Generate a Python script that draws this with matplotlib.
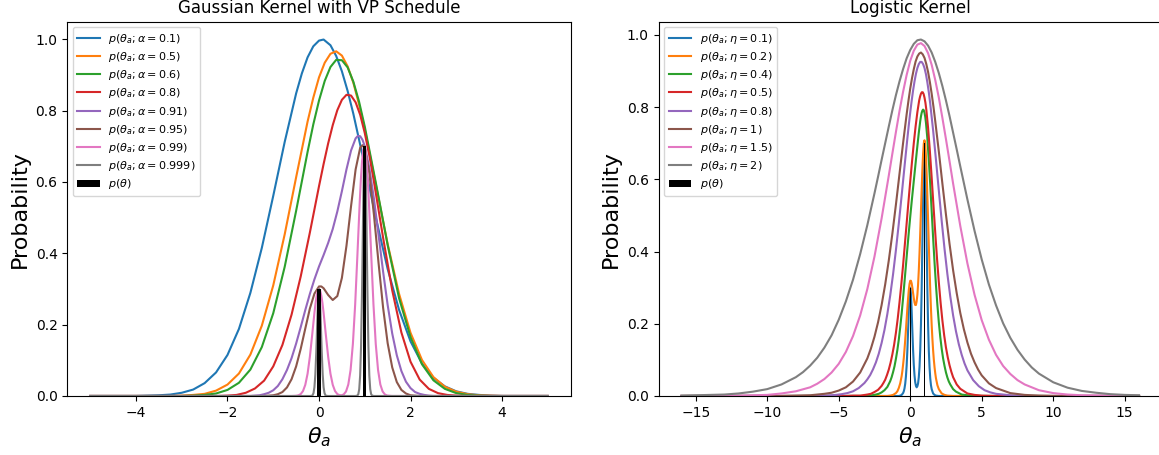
import matplotlib.pyplot as plt

# ---- left panel: Gaussian kernel with VP schedule ----
alpha_labels = ['0.1', '0.5', '0.6', '0.8', '0.91', '0.95', '0.99', '0.999']

g1_x = [-5, -4, -3.75, -3.5, -3.25, -3, -2.75, -2.5, -2.25, -2, -1.75, -1.5, -1.25, -1, -0.75,
        -0.5, -0.375, -0.25, -0.125, 0, 0.1, 0.25, 0.375, 0.5, 0.625, 0.75, 1, 1.25, 1.5, 1.75,
        2, 2.25, 2.5, 2.75, 3, 3.25, 3.5, 3.75, 4, 5]
g1_y = [0, 0, 0.001, 0.002, 0.004, 0.009, 0.018, 0.036, 0.066, 0.115, 0.188, 0.289, 0.415, 0.561, 0.712,
        0.848, 0.904, 0.949, 0.980, 0.996, 0.999, 0.983, 0.953, 0.910, 0.855, 0.791, 0.646, 0.495, 0.356, 0.241,
        0.153, 0.091, 0.051, 0.027, 0.013, 0.006, 0.003, 0.001, 0, 0]

g2_x = [-5, -4, -3.5, -3.25, -3, -2.75, -2.5, -2.25, -2, -1.75, -1.5, -1.25, -1, -0.75, -0.5,
        -0.25, -0.125, 0, 0.125, 0.25, 0.375, 0.5, 0.625, 0.75, 0.875, 1, 1.25, 1.5, 1.75, 2,
        2.25, 2.5, 2.75, 3, 3.25, 3.5, 3.75, 4, 5]
g2_y = [0, 0, 0, 0, 0.001, 0.003, 0.006, 0.015, 0.032, 0.063, 0.116, 0.197, 0.310, 0.453, 0.613,
        0.769, 0.836, 0.893, 0.934, 0.959, 0.966, 0.954, 0.924, 0.878, 0.817, 0.747, 0.587, 0.426, 0.286, 0.177,
        0.101, 0.053, 0.026, 0.012, 0.005, 0.002, 0.001, 0, 0]

g3_x = [-5, -3.5, -3.25, -3, -2.75, -2.5, -2.25, -2, -1.75, -1.5, -1.25, -1, -0.75, -0.5, -0.25,
        -0.125, 0, 0.125, 0.25, 0.375, 0.5, 0.625, 0.75, 0.875, 1, 1.25, 1.5, 1.75, 2, 2.25,
        2.5, 2.75, 3, 3.25, 3.5, 3.75, 5]
g3_y = [0, 0, 0, 0, 0.001, 0.003, 0.007, 0.017, 0.037, 0.074, 0.137, 0.232, 0.362, 0.519, 0.684,
        0.761, 0.828, 0.883, 0.922, 0.942, 0.941, 0.921, 0.881, 0.825, 0.755, 0.592, 0.423, 0.274, 0.165, 0.089,
        0.044, 0.020, 0.008, 0.003, 0.001, 0, 0]

g4_x = [-5, -2.4, -2.2, -2.0, -1.8, -1.6, -1.4, -1.2, -1.0, -0.8, -0.6, -0.4, -0.2, 0, 0.1,
        0.2, 0.3, 0.4, 0.5, 0.6, 0.7, 0.8, 0.9, 1.0, 1.1, 1.2, 1.4, 1.6, 1.8, 2.0,
        2.2, 2.4, 2.6, 2.8, 3.0, 3.2, 5]
g4_y = [0, 0, 0, 0.001, 0.003, 0.009, 0.021, 0.043, 0.083, 0.143, 0.228, 0.335, 0.458, 0.588, 0.650,
        0.708, 0.759, 0.801, 0.830, 0.844, 0.842, 0.823, 0.788, 0.737, 0.674, 0.601, 0.444, 0.296, 0.178, 0.096,
        0.046, 0.020, 0.008, 0.003, 0.001, 0, 0]

g5_x = [-5, -1.6, -1.5, -1.4, -1.3, -1.2, -1.1, -1.0, -0.9, -0.8, -0.7, -0.6, -0.5, -0.4, -0.3,
        -0.2, -0.1, 0, 0.1, 0.2, 0.3, 0.4, 0.5, 0.6, 0.7, 0.8, 0.85, 0.9, 0.95, 1.0,
        1.1, 1.2, 1.3, 1.4, 1.5, 1.6, 1.7, 1.8, 1.9, 2.0, 2.1, 2.2, 2.3, 2.4, 2.5, 2.6, 5]
g5_y = [0, 0, 0, 0.001, 0.002, 0.005, 0.009, 0.016, 0.028, 0.047, 0.073, 0.106, 0.147, 0.193, 0.241,
        0.286, 0.327, 0.363, 0.395, 0.429, 0.468, 0.517, 0.574, 0.635, 0.688, 0.722, 0.729, 0.728, 0.718, 0.700,
        0.639, 0.553, 0.452, 0.349, 0.255, 0.175, 0.114, 0.070, 0.040, 0.022, 0.011, 0.006, 0.003, 0.001, 0, 0, 0]

g6_x = [-5, -1.3, -1.2, -1.1, -1.0, -0.9, -0.8, -0.7, -0.6, -0.5, -0.4, -0.3, -0.2, -0.1, 0,
        0.05, 0.1, 0.2, 0.3, 0.4, 0.5, 0.6, 0.7, 0.8, 0.9, 0.95, 1.0, 1.1, 1.2, 1.3,
        1.4, 1.5, 1.6, 1.7, 1.8, 1.9, 2.0, 2.1, 2.2, 5]
g6_y = [0, 0, 0, 0.001, 0.002, 0.005, 0.011, 0.024, 0.047, 0.083, 0.132, 0.189, 0.245, 0.287, 0.307,
        0.307, 0.302, 0.283, 0.269, 0.280, 0.331, 0.421, 0.532, 0.635, 0.696, 0.703, 0.693, 0.624, 0.508, 0.374,
        0.248, 0.148, 0.080, 0.039, 0.017, 0.007, 0.002, 0.001, 0, 0]

g7_x = [-5, -0.6, -0.5, -0.45, -0.4, -0.35, -0.3, -0.25, -0.2, -0.15, -0.1, -0.075, -0.05, -0.025, 0,
        0.025, 0.05, 0.075, 0.1, 0.15, 0.2, 0.25, 0.3, 0.35, 0.4, 0.45, 0.5, 0.54, 0.59, 0.64,
        0.69, 0.74, 0.79, 0.84, 0.89, 0.915, 0.94, 0.965, 0.99, 1.015, 1.04, 1.065, 1.09, 1.14, 1.19,
        1.24, 1.29, 1.34, 1.39, 1.44, 1.49, 1.59, 5]
g7_y = [0, 0, 0.0006, 0.0019, 0.0054, 0.0138, 0.0313, 0.0624, 0.1098, 0.1705, 0.2333, 0.2605, 0.2817, 0.2953, 0.3,
        0.2953, 0.2817, 0.2605, 0.2333, 0.1705, 0.1098, 0.0624, 0.0313, 0.0138, 0.0054, 0.0023, 0.0022, 0.0045, 0.0126, 0.0322,
        0.0730, 0.1456, 0.2562, 0.3977, 0.5445, 0.6077, 0.6574, 0.6891, 0.7, 0.6891, 0.6574, 0.6077, 0.5445, 0.3977, 0.2562,
        0.1456, 0.0730, 0.0322, 0.0126, 0.0043, 0.0013, 0.0001, 0]

g8_x = [-5, -0.2, -0.16, -0.14, -0.12, -0.1, -0.08, -0.06, -0.05, -0.04, -0.03, -0.02, -0.01, 0, 0.01,
        0.02, 0.03, 0.04, 0.05, 0.06, 0.08, 0.1, 0.12, 0.14, 0.16, 0.2, 0.799, 0.839, 0.859, 0.879,
        0.899, 0.919, 0.939, 0.949, 0.959, 0.969, 0.979, 0.989, 0.999, 1.009, 1.019, 1.029, 1.039, 1.049, 1.059,
        1.079, 1.099, 1.119, 1.139, 1.159, 1.199, 5]
g8_y = [0, 0, 0.0005, 0.0022, 0.0082, 0.0246, 0.0605, 0.1219, 0.1605, 0.2011, 0.2395, 0.2714, 0.2926, 0.3, 0.2926,
        0.2714, 0.2395, 0.2011, 0.1605, 0.1219, 0.0605, 0.0246, 0.0082, 0.0022, 0.0005, 0, 0, 0.0012, 0.0052, 0.0191,
        0.0574, 0.1412, 0.2845, 0.3746, 0.4691, 0.5589, 0.6334, 0.6827, 0.7, 0.6827, 0.6334, 0.5589, 0.4691, 0.3746, 0.2845,
        0.1412, 0.0574, 0.0191, 0.0052, 0.0012, 0, 0]

# ---- right panel: logistic kernel ----
eta_labels = ['0.1', '0.2', '0.4', '0.5', '0.8', '1', '1.5', '2']

l1_x = [-16, -1, -0.8, -0.7, -0.6, -0.5, -0.45, -0.4, -0.35, -0.3, -0.25, -0.2, -0.15, -0.1, -0.075,
        -0.05, -0.025, 0, 0.025, 0.05, 0.075, 0.1, 0.15, 0.2, 0.25, 0.3, 0.35, 0.4, 0.45, 0.5,
        0.55, 0.6, 0.65, 0.7, 0.75, 0.8, 0.85, 0.9, 0.925, 0.95, 0.975, 1.0, 1.025, 1.05, 1.075,
        1.1, 1.15, 1.2, 1.25, 1.3, 1.35, 1.4, 1.45, 1.5, 1.6, 1.7, 1.8, 2.0, 16]
l1_y = [0, 0, 0, 0.001, 0.003, 0.008, 0.013, 0.021, 0.034, 0.054, 0.084, 0.126, 0.179, 0.236, 0.261,
        0.282, 0.295, 0.300, 0.296, 0.282, 0.262, 0.236, 0.180, 0.127, 0.086, 0.057, 0.038, 0.028, 0.024, 0.027,
        0.035, 0.052, 0.081, 0.128, 0.197, 0.294, 0.418, 0.551, 0.610, 0.658, 0.689, 0.700, 0.689, 0.658, 0.610,
        0.551, 0.418, 0.294, 0.196, 0.126, 0.080, 0.049, 0.030, 0.019, 0.007, 0.003, 0.001, 0, 0]

l2_x = [-16, -2, -1.6, -1.4, -1.2, -1.0, -0.9, -0.8, -0.7, -0.6, -0.55, -0.5, -0.45, -0.4, -0.35,
        -0.3, -0.25, -0.2, -0.15, -0.1, -0.05, 0, 0.05, 0.1, 0.15, 0.2, 0.25, 0.3, 0.35, 0.4,
        0.45, 0.5, 0.55, 0.6, 0.65, 0.7, 0.75, 0.8, 0.85, 0.9, 0.95, 0.975, 1.0, 1.025, 1.05,
        1.1, 1.15, 1.2, 1.25, 1.3, 1.35, 1.4, 1.45, 1.5, 1.55, 1.6, 1.65, 1.7, 1.75, 1.8,
        1.9, 2.0, 2.2, 2.4, 2.6, 3.0, 16]
l2_y = [0, 0, 0, 0.001, 0.003, 0.008, 0.013, 0.022, 0.035, 0.055, 0.069, 0.086, 0.105, 0.129, 0.155,
        0.183, 0.213, 0.243, 0.270, 0.293, 0.310, 0.319, 0.319, 0.312, 0.300, 0.285, 0.271, 0.259, 0.252, 0.252,
        0.262, 0.280, 0.309, 0.348, 0.396, 0.452, 0.512, 0.572, 0.627, 0.671, 0.699, 0.706, 0.708, 0.704, 0.695,
        0.663, 0.614, 0.553, 0.487, 0.419, 0.355, 0.295, 0.242, 0.197, 0.159, 0.127, 0.101, 0.080, 0.063, 0.049,
        0.030, 0.019, 0.007, 0.003, 0.001, 0, 0]

l3_x = [-16, -5, -4, -3.6, -3.2, -2.8, -2.4, -2.2, -2.0, -1.8, -1.6, -1.4, -1.3, -1.2, -1.1,
        -1.0, -0.9, -0.8, -0.7, -0.6, -0.5, -0.4, -0.3, -0.2, -0.1, 0, 0.1, 0.2, 0.3, 0.4,
        0.5, 0.6, 0.7, 0.75, 0.8, 0.85, 0.9, 0.95, 1.0, 1.05, 1.1, 1.2, 1.3, 1.4, 1.5,
        1.6, 1.7, 1.8, 1.9, 2.0, 2.1, 2.2, 2.3, 2.4, 2.5, 2.6, 2.7, 2.8, 3.0, 3.2,
        3.6, 4.0, 4.4, 5, 16]
l3_y = [0, 0, 0, 0, 0, 0.001, 0.004, 0.006, 0.010, 0.016, 0.025, 0.041, 0.052, 0.066, 0.082,
        0.103, 0.127, 0.156, 0.190, 0.228, 0.271, 0.316, 0.362, 0.408, 0.453, 0.496, 0.537, 0.576, 0.615, 0.654,
        0.692, 0.729, 0.761, 0.774, 0.784, 0.790, 0.793, 0.791, 0.784, 0.773, 0.757, 0.712, 0.653, 0.585, 0.512,
        0.439, 0.370, 0.307, 0.252, 0.204, 0.164, 0.131, 0.104, 0.083, 0.065, 0.051, 0.040, 0.032, 0.019, 0.012,
        0.004, 0.002, 0.001, 0, 0]

l4_x = [-16, -6, -5, -4.5, -4, -3.5, -3, -2.75, -2.5, -2.25, -2, -1.875, -1.75, -1.625, -1.5,
        -1.375, -1.25, -1.125, -1, -0.875, -0.75, -0.625, -0.5, -0.375, -0.25, -0.125, 0, 0.125, 0.25, 0.375,
        0.5, 0.625, 0.6875, 0.75, 0.8125, 0.875, 0.9375, 1, 1.0625, 1.125, 1.25, 1.375, 1.5, 1.625, 1.75,
        1.875, 2, 2.125, 2.25, 2.375, 2.5, 2.625, 2.75, 2.875, 3, 3.25, 3.5, 4, 4.5, 5, 6, 16]
l4_y = [0, 0, 0, 0, 0.001, 0.001, 0.004, 0.006, 0.011, 0.017, 0.028, 0.036, 0.045, 0.058, 0.073,
        0.092, 0.115, 0.142, 0.175, 0.214, 0.259, 0.308, 0.362, 0.420, 0.478, 0.537, 0.594, 0.649, 0.700, 0.746,
        0.786, 0.818, 0.829, 0.837, 0.841, 0.841, 0.836, 0.826, 0.812, 0.793, 0.742, 0.678, 0.605, 0.528, 0.452,
        0.380, 0.315, 0.258, 0.209, 0.168, 0.134, 0.107, 0.085, 0.067, 0.052, 0.032, 0.020, 0.007, 0.003, 0.001, 0, 0]

l5_x = [-16, -8, -7, -6, -5.6, -5.2, -4.8, -4.4, -4.0, -3.6, -3.2, -3.0, -2.8, -2.6, -2.4,
        -2.2, -2.0, -1.8, -1.6, -1.4, -1.2, -1.0, -0.8, -0.6, -0.4, -0.2, -0.1, 0, 0.1, 0.2,
        0.3, 0.4, 0.5, 0.6, 0.7, 0.8, 0.9, 1.0, 1.1, 1.2, 1.3, 1.4, 1.6, 1.8, 2.0,
        2.2, 2.4, 2.6, 2.8, 3.0, 3.2, 3.4, 3.6, 3.8, 4.0, 4.4, 4.8, 5.2, 5.6, 6.0, 7.0, 8.0, 16]
l5_y = [0, 0, 0, 0.001, 0.002, 0.003, 0.005, 0.008, 0.013, 0.022, 0.036, 0.046, 0.058, 0.074, 0.093,
        0.117, 0.147, 0.183, 0.227, 0.278, 0.337, 0.404, 0.477, 0.555, 0.635, 0.713, 0.750, 0.785, 0.817, 0.846,
        0.871, 0.892, 0.908, 0.919, 0.925, 0.925, 0.919, 0.908, 0.891, 0.868, 0.841, 0.809, 0.736, 0.654, 0.569,
        0.485, 0.407, 0.337, 0.276, 0.223, 0.179, 0.143, 0.114, 0.090, 0.071, 0.044, 0.027, 0.016, 0.010, 0.006, 0.002, 0, 0]

l6_x = [-16, -10, -9, -8, -7, -6, -5.5, -5, -4.5, -4, -3.5, -3, -2.75, -2.5, -2.25,
        -2, -1.75, -1.5, -1.25, -1, -0.75, -0.5, -0.25, -0.125, 0, 0.125, 0.25, 0.375, 0.5, 0.625,
        0.75, 0.875, 1, 1.125, 1.25, 1.375, 1.5, 1.625, 1.75, 2, 2.25, 2.5, 2.75, 3, 3.25,
        3.5, 3.75, 4, 4.25, 4.5, 4.75, 5, 5.5, 6, 7, 8, 9, 10, 16]
l6_y = [0, 0, 0, 0.001, 0.002, 0.006, 0.009, 0.015, 0.024, 0.040, 0.065, 0.104, 0.131, 0.164, 0.204,
        0.252, 0.309, 0.375, 0.449, 0.530, 0.615, 0.700, 0.780, 0.817, 0.851, 0.880, 0.905, 0.926, 0.940, 0.948,
        0.951, 0.946, 0.936, 0.919, 0.897, 0.869, 0.837, 0.801, 0.761, 0.677, 0.588, 0.502, 0.421, 0.348, 0.285,
        0.230, 0.185, 0.148, 0.117, 0.093, 0.073, 0.057, 0.035, 0.022, 0.008, 0.003, 0.001, 0, 0]

l7_x = [-16, -14, -12, -11, -10, -9, -8, -7, -6.5, -6, -5.5, -5, -4.5, -4, -3.5,
        -3, -2.5, -2, -1.5, -1.25, -1, -0.75, -0.5, -0.25, 0, 0.25, 0.5, 0.75, 1, 1.25,
        1.5, 1.75, 2, 2.25, 2.5, 2.75, 3, 3.5, 4, 4.5, 5, 5.5, 6, 6.5, 7,
        7.5, 8, 9, 10, 11, 12, 14, 16]
l7_y = [0, 0, 0.001, 0.002, 0.003, 0.007, 0.013, 0.024, 0.034, 0.047, 0.065, 0.089, 0.122, 0.166, 0.223,
        0.296, 0.386, 0.492, 0.610, 0.671, 0.731, 0.789, 0.842, 0.889, 0.928, 0.956, 0.973, 0.977, 0.969, 0.949,
        0.917, 0.875, 0.826, 0.770, 0.711, 0.650, 0.588, 0.471, 0.367, 0.280, 0.210, 0.156, 0.114, 0.083, 0.061,
        0.044, 0.032, 0.016, 0.008, 0.004, 0.002, 0.001, 0]

l8_x = [-16, -15, -14, -13, -12, -11, -10, -9, -8, -7.5, -7, -6.5, -6, -5.5, -5,
        -4.5, -4, -3.5, -3, -2.5, -2.25, -2, -1.75, -1.5, -1.25, -1, -0.75, -0.5, -0.25, 0,
        0.25, 0.5, 0.75, 1, 1.25, 1.5, 1.75, 2, 2.25, 2.5, 2.75, 3, 3.25, 3.5, 4,
        4.5, 5, 5.5, 6, 6.5, 7, 7.5, 8, 8.5, 9, 10, 11, 12, 13, 14, 15, 16]
l8_y = [0.001, 0.002, 0.003, 0.004, 0.007, 0.012, 0.019, 0.032, 0.052, 0.066, 0.084, 0.106, 0.134, 0.168, 0.211,
        0.262, 0.322, 0.393, 0.473, 0.561, 0.607, 0.654, 0.700, 0.746, 0.791, 0.833, 0.871, 0.905, 0.935, 0.958,
        0.975, 0.985, 0.987, 0.982, 0.970, 0.951, 0.925, 0.894, 0.858, 0.818, 0.775, 0.729, 0.683, 0.636, 0.544,
        0.457, 0.378, 0.309, 0.251, 0.201, 0.161, 0.128, 0.101, 0.079, 0.062, 0.038, 0.023, 0.014, 0.009, 0.005, 0.003, 0.002]

# discrete prior p(theta)
theta = [0, 1]
p_theta = [0.3, 0.7]

gauss = [(g1_x, g1_y), (g2_x, g2_y), (g3_x, g3_y), (g4_x, g4_y),
         (g5_x, g5_y), (g6_x, g6_y), (g7_x, g7_y), (g8_x, g8_y)]
logis = [(l1_x, l1_y), (l2_x, l2_y), (l3_x, l3_y), (l4_x, l4_y),
         (l5_x, l5_y), (l6_x, l6_y), (l7_x, l7_y), (l8_x, l8_y)]

fig = plt.figure(figsize=(11.59, 4.55), dpi=100)
ax1 = fig.add_axes([0.0581, 0.1297, 0.4343, 0.8226])
ax2 = fig.add_axes([0.5682, 0.1297, 0.4343, 0.8226])

for (x, y), a in zip(gauss, alpha_labels):
    ax1.plot(x, y, lw=1.5, label=r'$p(\theta_a;\alpha=' + a + ')$')
ax1.bar(theta, p_theta, width=0.07, color='black', zorder=3, label=r'$p(\theta)$')
ax1.set_title('Gaussian Kernel with VP Schedule', fontsize=12)

for (x, y), e in zip(logis, eta_labels):
    ax2.plot(x, y, lw=1.5, label=r'$p(\theta_a;\eta=' + e + ')$')
ax2.bar(theta, p_theta, width=0.07, color='black', zorder=3, label=r'$p(\theta)$')
ax2.set_title('Logistic Kernel', fontsize=12)

for ax in (ax1, ax2):
    ax.set_xlabel(r'$\theta_a$', fontsize=16)
    ax.set_ylabel('Probability', fontsize=16)
    ax.legend(loc='upper left', fontsize=8, labelspacing=0.38)

fig.savefig('out.png', dpi=100)
